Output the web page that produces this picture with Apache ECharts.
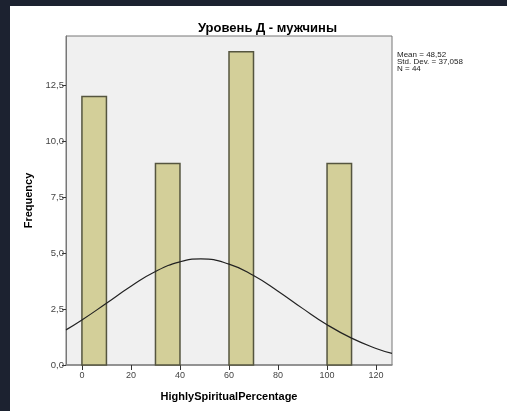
<!DOCTYPE html>
<html>
<head>
<meta charset="utf-8">
<script src="https://cdn.jsdelivr.net/npm/echarts@6/dist/echarts.min.js"></script>
<style>
  html, body { margin: 0; padding: 0; background: #1c2230; }
  #chart { position: absolute; left: 10px; top: 6px; width: 497px; height: 405px; background: #fff; }
</style>
</head>
<body>
<div id="chart"></div>
<script>
// histogram bins (start, end) and counts
const binStart = [0, 30, 60, 100]
const binEnd = [10, 40, 70, 110]
const counts = [12, 9, 14, 9]

// normal curve
const curveX = [-6.5, 0, 10, 20, 30, 40, 48.5, 60, 70, 80, 90, 100, 110, 120, 126.5]
const curveY = [1.57, 2.01, 2.76, 3.52, 4.18, 4.61, 4.74, 4.51, 4.0, 3.3, 2.53, 1.8, 1.2, 0.74, 0.52]

const xTicks = [0, 20, 40, 60, 80, 100, 120]
const yTicks = [0, 2.5, 5, 7.5, 10, 12.5]

const statLines = ['Mean = 48,52', 'Std. Dev. = 37,058', 'N = 44']

const chart = echarts.init(document.getElementById('chart'))

const barData = binStart.map((s, i) => [s, binEnd[i], counts[i]])
const lineData = curveX.map((x, i) => [x, curveY[i]])

chart.setOption({
  animation: false,
  textStyle: { fontFamily: 'Liberation Sans, Arial, sans-serif' },
  title: {
    text: 'Уровень Д - мужчины',
    left: 183,
    top: 11,
    textStyle: { fontSize: 13, fontWeight: 'bold', color: '#000' }
  },
  grid: {
    left: 56,
    top: 30,
    right: 115,
    bottom: 46,
    show: true,
    backgroundColor: '#f0f0f0',
    borderColor: '#777',
    borderWidth: 1
  },
  xAxis: {
    type: 'value',
    min: -6.5,
    max: 126.5,
    name: 'HighlySpiritualPercentage',
    nameLocation: 'middle',
    nameGap: 26,
    nameTextStyle: { fontSize: 11, fontWeight: 'bold', color: '#000' },
    splitLine: { show: false },
    axisLine: { show: true, onZero: false, lineStyle: { color: '#888', width: 1.5 } },
    axisTick: { show: true, customValues: xTicks, length: 5, lineStyle: { color: '#333' } },
    axisLabel: { customValues: xTicks, fontSize: 9, color: '#444', margin: 6 }
  },
  yAxis: {
    type: 'value',
    min: 0,
    max: 14.7,
    name: 'Frequency',
    nameLocation: 'middle',
    nameRotate: 90,
    nameGap: 31,
    nameTextStyle: { fontSize: 11, fontWeight: 'bold', color: '#000' },
    splitLine: { show: false },
    axisLine: { show: true, onZero: false, lineStyle: { color: '#777', width: 1 } },
    axisTick: { show: true, customValues: yTicks, length: 4, lineStyle: { color: '#333' } },
    axisLabel: {
      customValues: yTicks,
      fontSize: 9.5,
      color: '#444',
      margin: 2,
      formatter: v => v.toFixed(1).replace('.', ',')
    }
  },
  graphic: [{
    type: 'text',
    left: 387,
    top: 45,
    style: {
      text: statLines.join('\n'),
      fontSize: 8,
      lineHeight: 7,
      fill: '#222',
      fontFamily: 'Liberation Sans, Arial, sans-serif'
    }
  }],
  series: [
    {
      type: 'custom',
      data: barData,
      encode: { x: [0, 1], y: 2 },
      renderItem: function(params, api) {
        const p0 = api.coord([api.value(0), api.value(2)])
        const p1 = api.coord([api.value(1), 0])
        return {
          type: 'rect',
          shape: { x: p0[0], y: p0[1], width: p1[0] - p0[0], height: p1[1] - p0[1] },
          style: { fill: '#d3cf99', stroke: '#55553f', lineWidth: 1.5 }
        }
      }
    },
    {
      type: 'line',
      data: lineData,
      smooth: true,
      showSymbol: false,
      lineStyle: { color: '#222', width: 1.2 },
      z: 5
    }
  ]
})
</script>
</body>
</html>
